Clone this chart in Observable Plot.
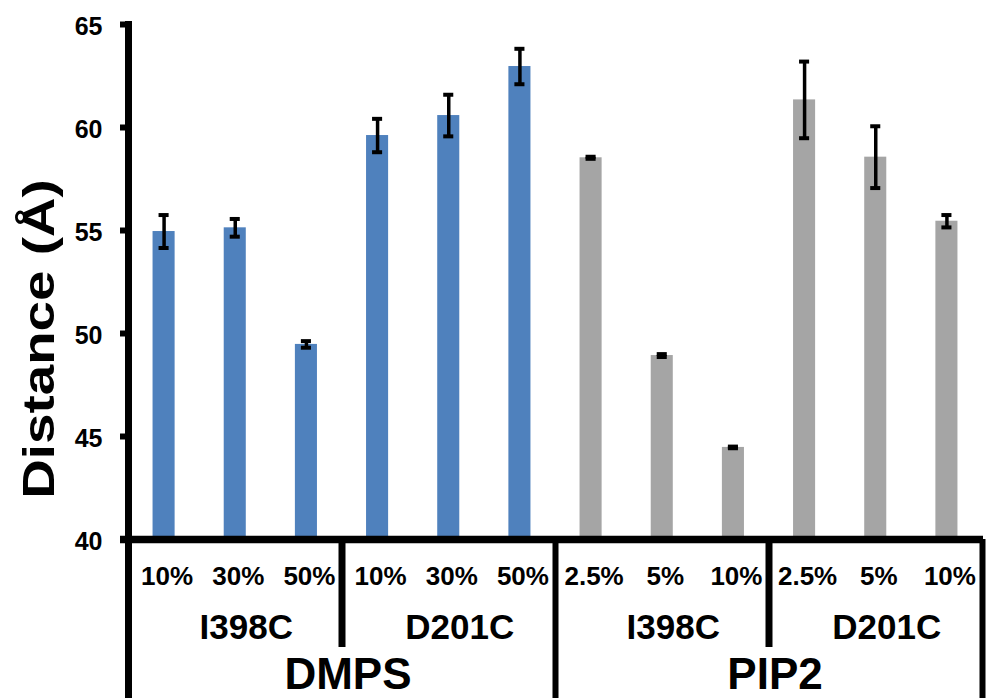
<!DOCTYPE html>
<html>
<head>
<meta charset="utf-8">
<script src="https://cdn.jsdelivr.net/npm/d3@7"></script>
<script src="https://cdn.jsdelivr.net/npm/@observablehq/plot@0.6"></script>
<style>
  html, body { margin: 0; padding: 0; background: #ffffff; }
  #chart svg { display: block; }
</style>
</head>
<body>
<div id="chart"></div>
<script>
// ---- data ----
const lipidGroups = ["DMPS", "PIP2"];
const mutants = ["I398C", "D201C"];
const levelsByLipid = {
  DMPS: ["10%", "30%", "50%"],
  PIP2: ["2.5%", "5%", "10%"]
};
// order: DMPS I398C (10,30,50), DMPS D201C (10,30,50), PIP2 I398C (2.5,5,10), PIP2 D201C (2.5,5,10)
const distances = [54.95, 55.13, 49.47, 59.61, 60.58, 62.96, 58.53, 48.93, 44.47, 61.34, 58.56, 55.45];
const errors    = [0.80,  0.43,  0.16,  0.81,  1.01,  0.86,  0.05,  0.07,  0.04,  1.86,  1.50,  0.30];
const yTicks = [40, 45, 50, 55, 60, 65];
const yDomain = [40, 65];
const lipidColors = ["#4F81BD", "#A5A5A5"];
const yTitle = "Distance (Å)";

// ---- table ----
const rows = [];
let k = 0;
lipidGroups.forEach((lipid, gi) => {
  mutants.forEach((mutant, mi) => {
    levelsByLipid[lipid].forEach((level, li) => {
      rows.push({
        id: `${lipid}|${mutant}|${level}`,
        lipid, mutant, level, gi, mi, li,
        value: distances[k], err: errors[k]
      });
      k++;
    });
  });
});

const width = 986, height = 698;
const marginLeft = 128, marginRight = 4, marginTop = 24, marginBottom = 159;
const frameH = height - marginTop - marginBottom;
const frameW = width - marginLeft - marginRight;
const step = frameW / rows.length;
const font = "'Liberation Sans', Arial, Helvetica, sans-serif";

const chart = Plot.plot({
  width, height, marginLeft, marginRight, marginTop, marginBottom,
  style: { fontFamily: font, background: "#ffffff", color: "#000000", overflow: "visible" },
  x: { domain: rows.map(d => d.id), paddingInner: 0.69, paddingOuter: 0.345, round: false, axis: null },
  y: { domain: yDomain, axis: null },
  color: { domain: lipidGroups, range: lipidColors },
  marks: [
    // bars
    Plot.barY(rows, { x: "id", y1: () => yDomain[0], y2: "value", fill: "lipid" }),
    // error bars
    Plot.ruleX(rows, { x: "id", y1: d => d.value - d.err, y2: d => d.value + d.err, stroke: "#000", strokeWidth: 3.5 }),
    Plot.tickY(rows, { x: "id", y: d => d.value + d.err, stroke: "#000", strokeWidth: 4, insetLeft: 6, insetRight: 6 }),
    Plot.tickY(rows, { x: "id", y: d => d.value - d.err, stroke: "#000", strokeWidth: 4, insetLeft: 6, insetRight: 6 }),
    // y axis ticks and labels
    Plot.ruleY(yTicks, { y: d => d, stroke: "#000", strokeWidth: 6, insetLeft: -8, insetRight: frameW }),
    Plot.text(yTicks, { y: d => d, text: d => String(d), frameAnchor: "left", textAnchor: "end", lineAnchor: "middle",
      dx: -26, dy: 2.5, fontSize: 25, fontWeight: "bold", fill: "#000" }),
    // left axis line (continues down through the category table)
    Plot.ruleX(rows.filter(d => d.gi === 0 && d.mi === 0 && d.li === 0),
      { x: "id", dx: -step / 2, stroke: "#000", strokeWidth: 7, insetTop: -3, insetBottom: -marginBottom }),
    // group separator and right edge
    Plot.ruleX(rows.filter(d => d.gi === 1 && d.mi === 0 && d.li === 0),
      { x: "id", dx: -step / 2, stroke: "#000", strokeWidth: 6, insetTop: frameH, insetBottom: -marginBottom }),
    Plot.ruleX(rows.filter(d => d.gi === 1 && d.mi === 1 && d.li === 2),
      { x: "id", dx: step / 2, stroke: "#000", strokeWidth: 6, insetTop: frameH, insetBottom: -marginBottom }),
    // mutant separators
    Plot.ruleX(rows.filter(d => d.mi === 1 && d.li === 0),
      { x: "id", dx: -step / 2, stroke: "#000", strokeWidth: 7, insetTop: frameH, insetBottom: -108 }),
    // bottom axis line
    Plot.ruleY([yDomain[0]], { stroke: "#000", strokeWidth: 7.5, insetLeft: -8, insetRight: -1 }),
    // category labels
    Plot.text(rows, { x: "id", text: "level", frameAnchor: "bottom", lineAnchor: "middle", textAnchor: "middle",
      dy: 37, dx: 3, fontSize: 26, fontWeight: "bold", fill: "#000" }),
    Plot.text(rows.filter(d => d.li === 1), { x: "id", text: "mutant", frameAnchor: "bottom", lineAnchor: "middle",
      textAnchor: "middle", dy: 88, dx: 11, fontSize: 35, fontWeight: "bold", fill: "#000" }),
    Plot.text(rows.filter(d => d.mi === 1 && d.li === 0), { x: "id", text: "lipid", frameAnchor: "bottom",
      lineAnchor: "middle", textAnchor: "middle", dy: 135, dx: -step / 2 + 6, fontSize: 44, fontWeight: "bold", fill: "#000" }),
    // y title
    Plot.text([yTitle], { text: d => d, frameAnchor: "left", textAnchor: "middle", lineAnchor: "middle",
      rotate: -90, dx: -89, dy: 57, fontSize: 44, fontWeight: "bold", fill: "#000" })
  ]
});

document.getElementById("chart").appendChild(chart);

// stretch the y title along its length, as in the reference
d3.select(chart).selectAll("text")
  .filter(function () { return this.textContent === yTitle; })
  .attr("transform", function () { return (this.getAttribute("transform") || "") + " scale(1.245,1)"; });
</script>
</body>
</html>
